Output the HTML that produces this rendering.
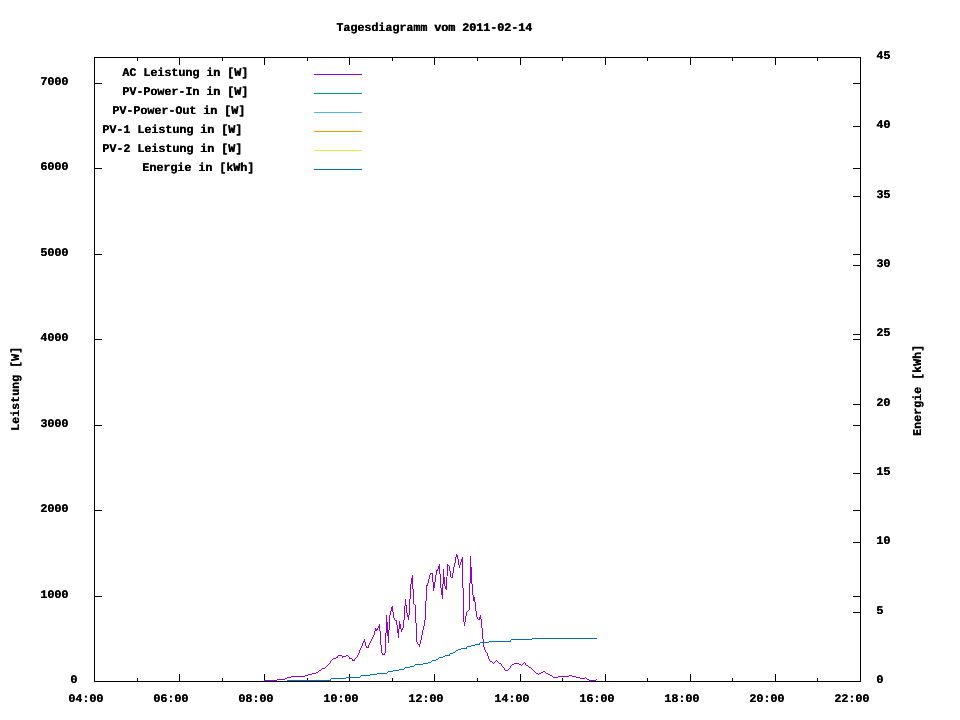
<!DOCTYPE html>
<html lang="de">
<head>
<meta charset="utf-8">
<title>Tagesdiagramm vom 2011-02-14</title>
<style>
html,body{margin:0;padding:0;background:#fff}
body{position:relative;width:960px;height:720px;overflow:hidden;color:#000;
 font-family:"Liberation Mono",monospace;font-weight:bold;font-size:11.79px}
.plot{position:absolute;left:0;top:0;display:block}
.t{position:absolute;white-space:pre;line-height:13px;height:13px;letter-spacing:-0.075px;
 font-kerning:none;font-variant-ligatures:none;text-shadow:0.35px 0 0 #000;text-rendering:geometricPrecision;filter:grayscale(1) contrast(1.8)}
.v{transform-origin:0 0;transform:rotate(-90deg)}
</style>
</head>
<body>
<svg class="plot" width="960" height="720" viewBox="0 0 960 720" shape-rendering="crispEdges">
<path fill="#000" d="M94 57h767v1h-767zM94 681h767v1h-767zM94 57h1v625h-1zM860 57h1v625h-1zM94 674h1v7h-1zM94 58h1v7h-1zM137 678h1v3h-1zM137 58h1v3h-1zM179 674h1v7h-1zM179 58h1v7h-1zM222 678h1v3h-1zM222 58h1v3h-1zM264 674h1v7h-1zM264 58h1v7h-1zM307 678h1v3h-1zM307 58h1v3h-1zM349 674h1v7h-1zM349 58h1v7h-1zM392 678h1v3h-1zM392 58h1v3h-1zM434 674h1v7h-1zM434 58h1v7h-1zM477 678h1v3h-1zM477 58h1v3h-1zM520 674h1v7h-1zM520 58h1v7h-1zM562 678h1v3h-1zM562 58h1v3h-1zM605 674h1v7h-1zM605 58h1v7h-1zM647 678h1v3h-1zM647 58h1v3h-1zM690 674h1v7h-1zM690 58h1v7h-1zM732 678h1v3h-1zM732 58h1v3h-1zM775 674h1v7h-1zM775 58h1v7h-1zM817 678h1v3h-1zM817 58h1v3h-1zM860 674h1v7h-1zM860 58h1v7h-1zM95 681h7v1h-7zM853 681h7v1h-7zM95 596h7v1h-7zM853 596h7v1h-7zM95 510h7v1h-7zM853 510h7v1h-7zM95 425h7v1h-7zM853 425h7v1h-7zM95 339h7v1h-7zM853 339h7v1h-7zM95 254h7v1h-7zM853 254h7v1h-7zM95 168h7v1h-7zM853 168h7v1h-7zM95 83h7v1h-7zM853 83h7v1h-7zM853 681h7v1h-7zM853 612h7v1h-7zM853 542h7v1h-7zM853 473h7v1h-7zM853 404h7v1h-7zM853 334h7v1h-7zM853 265h7v1h-7zM853 196h7v1h-7zM853 126h7v1h-7zM853 57h7v1h-7z"/>
<path fill="#9400d3" d="M314 74h48v1h-48z"/>
<path fill="#009e73" d="M314 93h48v1h-48z"/>
<path fill="#56b4e9" d="M314 112h48v1h-48z"/>
<path fill="#e69f00" d="M314 131h48v1h-48z"/>
<path fill="#f0e442" d="M314 150h48v1h-48z"/>
<path fill="#0072b2" d="M314 169h48v1h-48z"/>
<path fill="#9400d3" d="M264 680h13v1h-13zM277 679h8v1h-8zM285 678h2v1h-2zM287 677h4v1h-4zM291 676h14v1h-14zM305 675h3v1h-3zM308 674h4v1h-4zM312 673h4v1h-4zM316 672h2v1h-2zM318 671h1v1h-1zM319 670h2v1h-2zM321 669h1v1h-1zM322 668h3v1h-3zM325 667h1v1h-1zM326 666h1v1h-1zM327 665h1v1h-1zM328 664h1v1h-1zM329 663h1v1h-1zM330 661h1v2h-1zM331 660h1v1h-1zM332 659h1v1h-1zM333 658h3v1h-3zM336 657h1v1h-1zM337 656h1v2h-1zM338 655h4v1h-4zM342 656h1v2h-1zM343 656h3v1h-3zM346 655h2v1h-2zM348 656h1v1h-1zM349 657h1v2h-1zM350 658h2v1h-2zM352 659h1v2h-1zM353 660h1v1h-1zM354 659h1v2h-1zM355 658h1v1h-1zM356 657h1v1h-1zM357 655h1v2h-1zM358 653h1v2h-1zM359 650h1v3h-1zM360 648h1v2h-1zM361 646h1v2h-1zM362 643h1v3h-1zM363 641h1v2h-1zM364 639h1v3h-1zM365 642h1v4h-1zM366 646h1v2h-1zM367 647h1v1h-1zM368 645h1v3h-1zM369 643h1v2h-1zM370 641h1v2h-1zM371 639h1v2h-1zM372 637h1v2h-1zM373 635h1v2h-1zM374 631h1v4h-1zM375 628h1v3h-1zM376 629h1v2h-1zM377 628h1v2h-1zM378 626h1v2h-1zM379 624h1v7h-1zM380 631h1v14h-1zM381 645h1v8h-1zM382 653h1v2h-1zM383 654h1v1h-1zM384 653h1v2h-1zM385 633h1v20h-1zM386 615h1v18h-1zM387 622h1v14h-1zM388 630h1v13h-1zM389 615h1v15h-1zM390 611h1v4h-1zM391 607h1v4h-1zM392 606h1v6h-1zM393 612h1v6h-1zM394 618h1v2h-1zM395 620h1v1h-1zM396 620h1v5h-1zM397 625h1v8h-1zM398 629h1v9h-1zM399 621h1v8h-1zM400 624h1v5h-1zM401 629h1v3h-1zM402 628h1v2h-1zM403 620h1v8h-1zM404 606h1v14h-1zM405 599h1v7h-1zM406 605h1v8h-1zM407 613h1v4h-1zM408 615h1v5h-1zM409 599h1v16h-1zM410 584h1v15h-1zM411 578h1v6h-1zM412 575h1v14h-1zM413 589h1v15h-1zM414 604h1v1h-1zM415 605h1v18h-1zM416 623h1v19h-1zM417 642h1v2h-1zM418 644h1v1h-1zM419 644h1v3h-1zM420 640h1v4h-1zM421 635h1v5h-1zM422 630h1v5h-1zM423 626h1v4h-1zM424 620h1v6h-1zM425 601h1v19h-1zM426 585h1v16h-1zM427 583h1v3h-1zM428 579h1v4h-1zM429 575h1v4h-1zM430 573h1v2h-1zM431 573h1v1h-1zM432 573h1v9h-1zM433 582h1v9h-1zM434 582h1v6h-1zM435 575h1v7h-1zM436 570h1v5h-1zM437 569h1v2h-1zM438 566h1v3h-1zM439 564h1v10h-1zM440 574h1v14h-1zM441 588h1v7h-1zM442 584h1v15h-1zM443 569h1v15h-1zM444 577h1v9h-1zM445 586h1v3h-1zM446 577h1v13h-1zM447 564h1v12h-1zM448 565h1v1h-1zM449 566h1v5h-1zM450 571h1v6h-1zM451 577h1v1h-1zM452 573h1v5h-1zM453 567h1v6h-1zM454 563h1v4h-1zM455 557h1v6h-1zM456 554h1v3h-1zM457 555h1v4h-1zM458 559h1v6h-1zM459 565h1v3h-1zM460 562h1v3h-1zM461 559h1v3h-1zM462 557h1v31h-1zM463 588h1v34h-1zM464 622h1v4h-1zM465 616h1v6h-1zM466 612h1v4h-1zM467 611h1v1h-1zM468 610h1v1h-1zM469 583h1v27h-1zM470 556h1v27h-1zM471 567h1v17h-1zM472 584h1v11h-1zM473 595h1v6h-1zM474 597h1v5h-1zM475 602h1v9h-1zM476 611h1v6h-1zM477 617h1v2h-1zM478 619h1v1h-1zM479 617h1v3h-1zM480 615h1v4h-1zM481 619h1v9h-1zM482 628h1v11h-1zM483 639h1v8h-1zM484 647h1v3h-1zM485 650h1v2h-1zM486 652h1v1h-1zM487 653h1v3h-1zM488 656h1v3h-1zM489 659h1v2h-1zM490 661h2v1h-2zM492 662h1v1h-1zM493 663h1v1h-1zM494 662h1v1h-1zM495 661h1v1h-1zM496 660h1v1h-1zM497 661h1v1h-1zM498 662h1v1h-1zM499 663h2v1h-2zM501 664h1v2h-1zM502 666h1v1h-1zM503 667h1v1h-1zM504 668h1v2h-1zM505 670h3v1h-3zM508 669h1v1h-1zM509 668h1v1h-1zM510 666h1v2h-1zM511 665h1v1h-1zM512 664h2v1h-2zM514 663h5v1h-5zM519 664h2v1h-2zM521 665h1v1h-1zM522 664h1v1h-1zM523 663h1v1h-1zM524 662h1v1h-1zM525 663h1v2h-1zM526 665h2v1h-2zM528 666h1v1h-1zM529 667h2v1h-2zM531 668h1v1h-1zM532 669h1v1h-1zM533 670h1v1h-1zM534 671h1v1h-1zM535 672h1v1h-1zM536 673h2v1h-2zM538 674h1v1h-1zM539 673h2v1h-2zM541 672h2v1h-2zM543 671h2v1h-2zM545 672h1v1h-1zM546 673h2v1h-2zM548 674h2v1h-2zM550 675h2v1h-2zM552 676h1v1h-1zM553 677h5v1h-5zM558 676h11v1h-11zM569 675h3v1h-3zM572 676h4v1h-4zM576 677h4v1h-4zM580 678h5v1h-5zM585 677h1v1h-1zM586 678h1v1h-1zM587 679h2v1h-2zM589 680h7v1h-7zM596 679h1v1h-1z"/>
<path fill="#0072b2" d="M287 680h43v1h-43zM330 679h1v2h-1zM331 678h15v1h-15zM346 677h14v1h-14zM360 676h1v1h-1zM361 675h9v1h-9zM370 674h7v1h-7zM377 673h10v1h-10zM387 672h1v1h-1zM388 671h5v1h-5zM393 670h6v1h-6zM399 669h5v1h-5zM404 668h1v1h-1zM405 667h5v1h-5zM410 666h4v1h-4zM414 665h1v1h-1zM415 664h8v1h-8zM423 663h5v1h-5zM428 662h3v1h-3zM431 661h1v1h-1zM432 660h4v1h-4zM436 659h2v1h-2zM438 658h1v1h-1zM439 657h4v1h-4zM443 656h2v1h-2zM445 655h4v1h-4zM449 654h1v2h-1zM450 653h3v1h-3zM453 652h2v1h-2zM455 651h1v1h-1zM456 650h2v1h-2zM458 649h3v1h-3zM461 648h5v1h-5zM466 647h1v2h-1zM467 646h4v1h-4zM471 645h4v1h-4zM475 644h4v1h-4zM479 643h1v2h-1zM480 642h9v1h-9zM489 641h21v1h-21zM510 640h1v2h-1zM511 639h21v1h-21zM532 638h65v1h-65z"/>
</svg>
<div class="t" style="left:336.2px;top:22.36px">Tagesdiagramm vom 2011-02-14</div>
<div class="t" style="left:68.2px;top:693.36px">04:00</div>
<div class="t" style="left:153.2px;top:693.36px">06:00</div>
<div class="t" style="left:238.2px;top:693.36px">08:00</div>
<div class="t" style="left:323.2px;top:693.36px">10:00</div>
<div class="t" style="left:408.2px;top:693.36px">12:00</div>
<div class="t" style="left:494.2px;top:693.36px">14:00</div>
<div class="t" style="left:579.2px;top:693.36px">16:00</div>
<div class="t" style="left:664.2px;top:693.36px">18:00</div>
<div class="t" style="left:749.2px;top:693.36px">20:00</div>
<div class="t" style="left:834.2px;top:693.36px">22:00</div>
<div class="t" style="left:70.2px;top:674.36px">0</div>
<div class="t" style="left:40.2px;top:589.36px">1000</div>
<div class="t" style="left:40.2px;top:503.36px">2000</div>
<div class="t" style="left:40.2px;top:418.36px">3000</div>
<div class="t" style="left:40.2px;top:332.36px">4000</div>
<div class="t" style="left:40.2px;top:247.36px">5000</div>
<div class="t" style="left:40.2px;top:161.36px">6000</div>
<div class="t" style="left:40.2px;top:76.36px">7000</div>
<div class="t" style="left:876.2px;top:674.36px">0</div>
<div class="t" style="left:876.2px;top:605.36px">5</div>
<div class="t" style="left:876.2px;top:535.36px">10</div>
<div class="t" style="left:876.2px;top:466.36px">15</div>
<div class="t" style="left:876.2px;top:397.36px">20</div>
<div class="t" style="left:876.2px;top:327.36px">25</div>
<div class="t" style="left:876.2px;top:258.36px">30</div>
<div class="t" style="left:876.2px;top:189.36px">35</div>
<div class="t" style="left:876.2px;top:119.36px">40</div>
<div class="t" style="left:876.2px;top:50.36px">45</div>
<div class="t" style="left:122.2px;top:67.36px">AC Leistung in [W]</div>
<div class="t" style="left:122.2px;top:86.36px">PV-Power-In in [W]</div>
<div class="t" style="left:112.2px;top:105.36px">PV-Power-Out in [W]</div>
<div class="t" style="left:102.2px;top:124.36px">PV-1 Leistung in [W]</div>
<div class="t" style="left:102.2px;top:143.36px">PV-2 Leistung in [W]</div>
<div class="t" style="left:142.2px;top:162.36px">Energie in [kWh]</div>
<div class="t v" style="left:10.36px;top:431px">Leistung [W]</div>
<div class="t v" style="left:912.36px;top:436px">Energie [kWh]</div>
</body>
</html>
